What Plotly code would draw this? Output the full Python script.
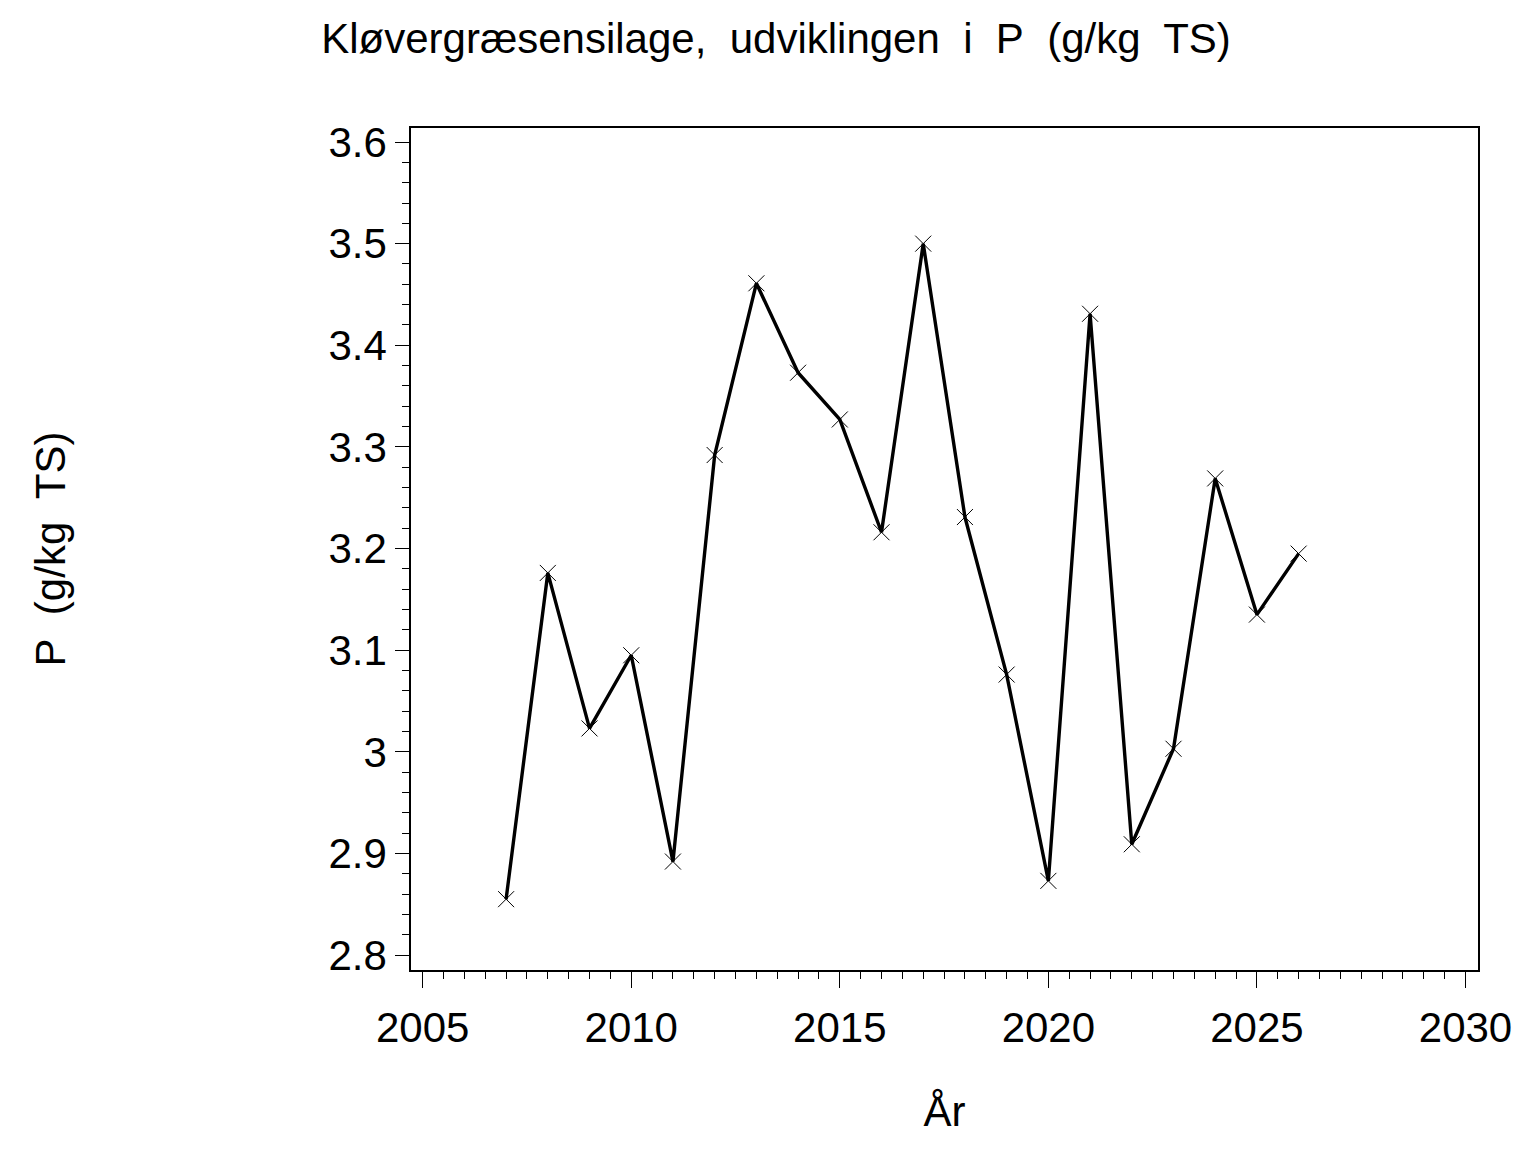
import plotly.graph_objects as go

# Kløvergræsensilage, P (g/kg TS) pr. år
years = [2007, 2008, 2009, 2010, 2011, 2012, 2013, 2014, 2015, 2016,
         2017, 2018, 2019, 2020, 2021, 2022, 2023, 2024, 2025, 2026]
p_values = [2.855, 3.176, 3.023, 3.095, 2.892, 3.292, 3.461, 3.373, 3.327, 3.216,
            3.500, 3.231, 3.076, 2.873, 3.431, 2.909, 3.003, 3.269, 3.135, 3.195]

x_ticks = [2005, 2010, 2015, 2020, 2025, 2030]
x_labels = ["2005", "2010", "2015", "2020", "2025", "2030"]
y_ticks = [2.8, 2.9, 3.0, 3.1, 3.2, 3.3, 3.4, 3.5, 3.6]
y_labels = ["2.8", "2.9", "3", "3.1", "3.2", "3.3", "3.4", "3.5", "3.6"]

title_text = "Kløvergræsensilage,\u00a0 udviklingen\u00a0 i\u00a0 P\u00a0 (g/kg\u00a0 TS)"
ytitle_text = "P\u00a0 (g/kg\u00a0 TS)"
xtitle_text = "År"

font_family = "Liberation Sans, Arial, sans-serif"

fig = go.Figure()
fig.add_trace(go.Scatter(
    x=years, y=p_values,
    mode="lines+markers",
    line=dict(color="black", width=3.4),
    marker=dict(symbol="x-thin-open", size=16, color="black",
                line=dict(color="black", width=1)),
    showlegend=False,
))

axis_common = dict(
    showline=True, linecolor="black", linewidth=1.5, mirror=True,
    showgrid=False, zeroline=False,
    ticks="outside", tickcolor="black", tickwidth=1,
    tickfont=dict(family=font_family, size=42, color="black"),
)

fig.update_xaxes(
    range=[2004.72, 2030.30],
    tickvals=x_ticks, ticktext=x_labels, ticklen=16,
    ticklabelstandoff=4,
    minor=dict(dtick=0.5, tick0=2005, ticks="outside", ticklen=7,
               tickcolor="black", tickwidth=1),
    title=dict(text=xtitle_text, standoff=46,
               font=dict(family=font_family, size=42, color="black")),
    **axis_common,
)
fig.update_yaxes(
    range=[2.7853, 3.6138],
    tickvals=y_ticks, ticktext=y_labels, ticklen=14,
    minor=dict(dtick=0.02, tick0=2.8, ticks="outside", ticklen=7,
               tickcolor="black", tickwidth=1),
    title=dict(text=ytitle_text, standoff=250,
               font=dict(family=font_family, size=42, color="black")),
    **axis_common,
)

# the page adds an 8 px body margin, so the margins are shifted to compensate
fig.update_layout(
    width=1536, height=1152,
    margin=dict(l=403, r=66, t=120, b=190),
    paper_bgcolor="white", plot_bgcolor="white",
    title=dict(text=title_text, x=0.5, xanchor="center", y=0.974, yanchor="middle",
               font=dict(family=font_family, size=42, color="black")),
)

fig.write_html("out.html")
